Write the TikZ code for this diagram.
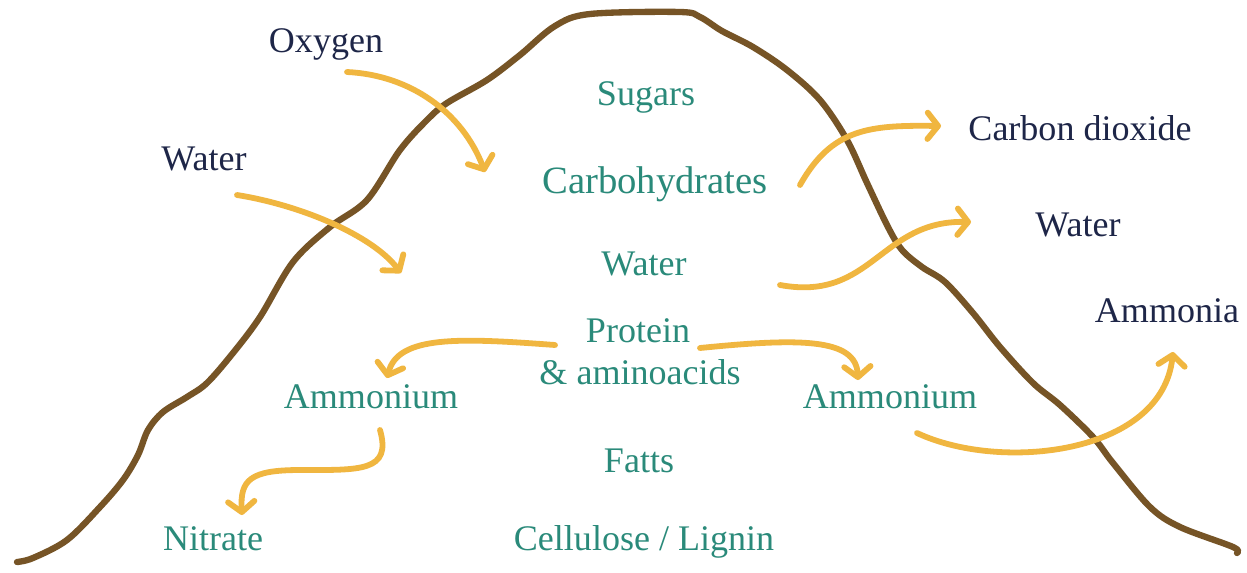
\documentclass[tikz,border=0pt]{standalone}
\usepackage{fontspec}
\setmainfont{Liberation Serif}
\usetikzlibrary{arrows.meta}
\definecolor{navy}{RGB}{30,38,72}
\definecolor{tealtxt}{RGB}{42,138,122}
\definecolor{arr}{RGB}{240,182,64}
\definecolor{soil}{RGB}{118,84,38}
\begin{document}
\begin{tikzpicture}[x=0.02cm,y=-0.02cm,
  lbl/.style={font=\fontsize{20.5}{24}\selectfont, inner sep=0pt, anchor=base},
  outer/.style={lbl, text=navy},
  inner/.style={lbl, text=tealtxt},
  flow/.style={draw=arr, line width=3.3pt, line cap=round,
     -{Straight Barb[round, length=6pt, width=15pt]}},
  ground/.style={draw=soil, line width=3.6pt, line cap=round, line join=round}]
\useasboundingbox[fill=white] (0,0) rectangle (1247,572);

% mountain
\draw[ground] plot[smooth, tension=0.55] coordinates {
 (17,562) (33,558) (67,540) (100,507) (123,480) (138,455) (148,430) (163,412)
 (187,397) (207,383) (233,353) (260,317) (293,262) (330,227) (367,200) (400,150)
 (427,120) (447,103) (487,80) (520,55) (555,26) (590,14) (680,12) (700,17)
 (722,31) (753,47) (787,70) (820,100) (847,140) (867,183) (888,227) (902,250)
 (922,267) (945,282) (973,313) (1000,347) (1033,383) (1060,405) (1093,437)
 (1113,463) (1150,507) (1180,527) (1233,547) (1237,553)};

% labels
\node[outer] (oxy) at (326,52) {Oxygen};
\node[outer] (wl) at (204,170) {Water};
\node[outer] (co2) at (1080,140) {Carbon dioxide};
\node[outer] (wr) at (1078,236) {Water};
\node[outer] (nh3) at (1167,322) {Ammonia};
\node[inner] (sug) at (646,105) {Sugars};
\node[inner] (carb) at (655,193) {\fontsize{22}{26}\selectfont Carbohydrates};
\node[inner] (wm) at (644,275) {Water};
\node[inner] (prot) at (638,342) {Protein};
\node[inner] (amino) at (640,384) {\& aminoacids};
\node[inner] (aml) at (371,408) {Ammonium};
\node[inner] (amr) at (890,408) {Ammonium};
\node[inner] (fat) at (639,472) {Fatts};
\node[inner] (nit) at (213,550) {Nitrate};
\node[inner] (cell) at (644,550) {Cellulose / Lignin};

% arrow end points
\coordinate (o1) at (347,72);   \coordinate (o2) at (485,172);
\coordinate (w1) at (237,195);  \coordinate (w2) at (401,273);
\coordinate (c1) at (800,185);  \coordinate (c2) at (941,126);
\coordinate (r1) at (780,285);  \coordinate (r2) at (971,222);
\coordinate (p1) at (555,345);  \coordinate (p2) at (387,378);
\coordinate (q1) at (700,348);  \coordinate (q2) at (858,380);
\coordinate (n1) at (380,430);  \coordinate (n2) at (242,515);
\coordinate (m1) at (917,433);  \coordinate (m2) at (1173,352);

% arrows
\draw[flow] (o1) .. controls (410,75) and (462,112) .. (o2);
\draw[flow] (w1) .. controls (300,205) and (372,235) .. (w2);
\draw[flow] (c1) .. controls (832,128) and (870,125) .. (c2);
\draw[flow] (r1) .. controls (872,302) and (880,220) .. (r2);
\draw[flow] (p1) .. controls (460,338) and (398,335) .. (p2);
\draw[flow] (q1) .. controls (800,338) and (856,338) .. (q2);
\draw[flow] (n1) .. controls (392,472) and (360,470) .. (300,470)
               .. controls (250,470) and (240,480) .. (n2);
\draw[flow] (m1) .. controls (1000,472) and (1162,455) .. (m2);
\end{tikzpicture}
\end{document}
